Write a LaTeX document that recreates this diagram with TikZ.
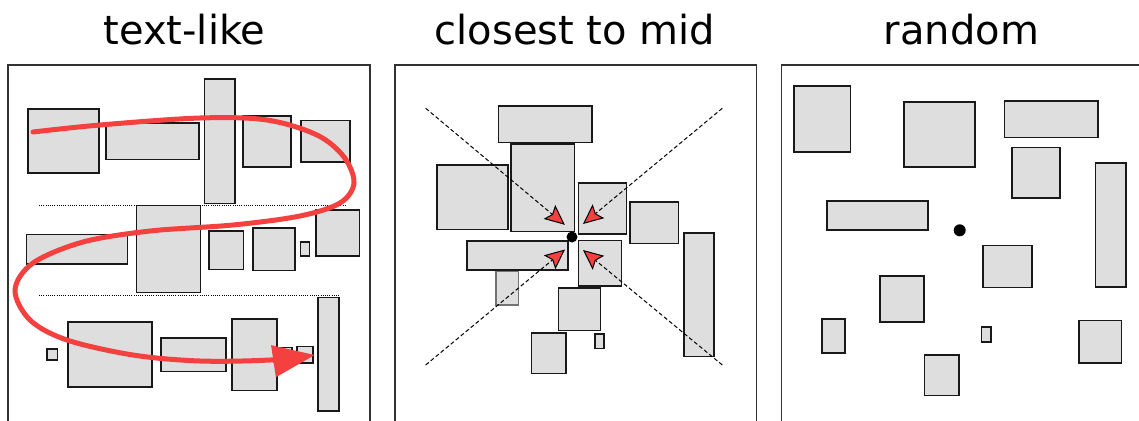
\documentclass[tikz,border=0pt]{standalone}
\usepackage{fontspec}
\setmainfont{DejaVu Sans}
\usetikzlibrary{arrows.meta}
\definecolor{boxfill}{RGB}{222,222,222}
\definecolor{arrred}{RGB}{245,64,64}
\definecolor{framecol}{RGB}{50,50,50}
\tikzset{
  box/.style={fill=boxfill, draw=black!90, line width=1.6pt},
  lightbox/.style={fill=boxfill, draw=black!55, line width=1.4pt},
  panel/.style={draw=framecol, line width=1.4pt},
  guide/.style={draw=black, line width=0.9pt, dash pattern=on 1pt off 1.2pt},
  ray/.style={draw=black, line width=1pt, dash pattern=on 4pt off 2.5pt,
    -{Stealth[length=20pt,width=18pt,inset=3.5pt,fill=arrred]}},
  snake/.style={draw=arrred, line width=5pt, line cap=round,
    -{Triangle[length=42pt,width=31pt]}},
  title/.style={anchor=base, inner sep=0pt, font=\fontsize{40}{40}\selectfont},
  dot/.style={circle, fill=black, inner sep=0pt, minimum size=11pt}
}
\begin{document}
\begin{tikzpicture}[x=1pt,y=-1pt]
\useasboundingbox (0,0) rectangle (1139,420);

% titles
\node[title] (t1) at (184.5,45) {text-like};
\node[title] (t2) at (575,45) {closest to mid};
\node[title] (t3) at (961.5,45) {random};

% panel frames
\draw[panel] (8,430) -- (8,65) -- (370,65) -- (370,430);
\draw[panel] (395,430) -- (395,65) -- (756.5,65) -- (756.5,430);
\draw[panel] (781.5,430) -- (781.5,65) -- (1145,65);

% ---------- panel 1: text-like ----------
\draw[box] (28,109) rectangle (99,173);
\draw[box] (105.7,122.7) rectangle (199,159.3);
\draw[box] (204.3,79) rectangle (235,203.3);
\draw[box] (243,115.7) rectangle (291,166.7);
\draw[box] (301,120.3) rectangle (349.7,162);
\draw[guide] (39,205) -- (346,205);
\draw[box] (26.3,234.3) rectangle (127.3,263.7);
\draw[box] (136.3,205.3) rectangle (200.3,292.3);
\draw[box] (209,231) rectangle (243.3,269.3);
\draw[box] (252.7,227.7) rectangle (295,270.3);
\draw[box] (300.3,242) rectangle (309.3,256);
\draw[box] (315.7,210) rectangle (359.3,255.7);
\draw[guide] (39,295.3) -- (340,295.3);
\draw[box] (46.7,349) rectangle (57.3,360);
\draw[box] (67.7,322) rectangle (151.7,387);
\draw[box] (160.7,337.7) rectangle (226,371.3);
\draw[box] (232,318.7) rectangle (277,390.3);
\draw[box] (280,347.3) rectangle (292,362);
\draw[box] (296.7,346.3) rectangle (313,362.7);
\draw[box] (317.7,297.3) rectangle (338.7,411);

\draw[snake] plot[smooth, tension=0.55] coordinates {
  (33,132) (100,125) (200,118) (267,120) (317,135) (344,157) (354,183)
  (340,203) (300,216) (233,225) (150,231) (83,242) (33,263) (15,290)
  (30,320) (67,340) (133,355) (200,361) (270,360) (315,355)};

% ---------- panel 2: closest to mid ----------
\draw[box] (498.3,105.7) rectangle (591.7,142.3);
\draw[box] (510.7,144) rectangle (574.3,231.3);
\draw[box] (436.7,165) rectangle (507.7,229.3);
\draw[box] (578.3,183) rectangle (626.3,233.7);
\draw[box] (629.7,202) rectangle (678.3,243.3);
\draw[box] (467,241) rectangle (567.7,270);
\draw[lightbox] (496,271.7) rectangle (518.3,305);
\draw[box] (578.3,240.3) rectangle (621.3,286);
\draw[box] (558.3,288) rectangle (600.3,330.3);
\draw[box] (531.3,332.7) rectangle (565.7,373.3);
\draw[box] (594.7,334) rectangle (603.7,348.3);
\draw[box] (683.7,232.7) rectangle (714,356.3);
\node[dot] (mid) at (572,237) {};

\coordinate (c1) at (425.7,108.3);
\coordinate (c2) at (722.3,108.3);
\coordinate (c3) at (425.7,365);
\coordinate (c4) at (722.3,365);
\coordinate (h1) at (564.8,224.8);
\coordinate (h2) at (583,224);
\coordinate (h3) at (565,249.5);
\coordinate (h4) at (583,250);
\draw[ray] (c1) -- (h1);
\draw[ray] (c2) -- (h2);
\draw[ray] (c3) -- (h3);
\draw[ray] (c4) -- (h4);

% ---------- panel 3: random ----------
\draw[box] (794,85.7) rectangle (850.3,151.7);
\draw[box] (903.7,102) rectangle (974.7,166.7);
\draw[box] (1004.3,100.7) rectangle (1097.7,137.3);
\draw[box] (1011.7,147.3) rectangle (1059.7,198);
\draw[box] (1095.3,162.7) rectangle (1126,287);
\draw[box] (826.7,200.7) rectangle (927.7,229.7);
\node[dot, minimum size=12pt] (rmid) at (959.7,230.3) {};
\draw[box] (983,245.3) rectangle (1031.7,287.3);
\draw[box] (880,276) rectangle (924,322);
\draw[box] (822,319) rectangle (844.7,353);
\draw[box] (981.3,327) rectangle (990.7,341.7);
\draw[box] (1078.7,320.3) rectangle (1121.3,363);
\draw[box] (924.3,354.7) rectangle (959,395.3);
\end{tikzpicture}
\end{document}
